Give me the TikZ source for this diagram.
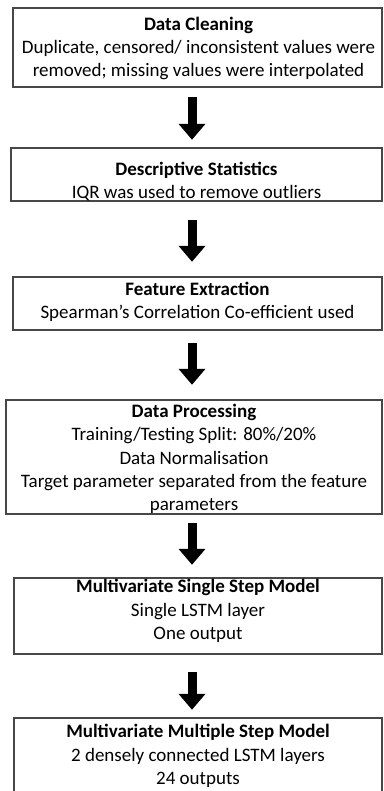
\documentclass[tikz,border=0pt]{standalone}
\usepackage{fontspec}
\setmainfont{Carlito}
\usetikzlibrary{arrows.meta,calc}
\begin{document}
\begin{tikzpicture}[x=1pt,y=-1pt,
  frame/.style={draw=black!72, line width=1.1pt},
  stagebox/.style={minimum width=#1, inner sep=0pt},
  stagetext/.style={align=center, font=\fontsize{19}{23.2}\selectfont, inner sep=0pt},
  bigarrow/.style={line width=9pt, -{Triangle[width=26pt,length=16pt]}}]
\useasboundingbox (0,0) rectangle (383,791);
\clip (0,0) rectangle (383,791);
% stage boxes (corner coordinates in px)
\draw[frame] (13,8) rectangle (382,87);
\node (b1) at (197.5,47.5) [stagebox=369pt, minimum height=79pt] {};
\draw[frame] (11,148) rectangle (382,201);
\node (b2) at (196.5,174.5) [stagebox=371pt, minimum height=53pt] {};
\draw[frame] (13,277) rectangle (382,330);
\node (b3) at (197.5,303.5) [stagebox=369pt, minimum height=53pt] {};
\draw[frame] (6,400) rectangle (382,514);
\node (b4) at (194,457) [stagebox=376pt, minimum height=114pt] {};
\draw[frame] (14,578) rectangle (382,654);
\node (b5) at (198,616) [stagebox=368pt, minimum height=76pt] {};
\draw[frame] (14,718) rectangle (382,820);
\node (b6) at (198,769) [stagebox=368pt, minimum height=102pt] {};
% texts
\node[stagetext] (t1) at (198.5,48.5) {\textbf{Data Cleaning}\\Duplicate, censored/ inconsistent values were\\removed; missing values were interpolated};
\node[stagetext] (t2) at (196.5,181.5) {\textbf{Descriptive Statistics}\\IQR was used to remove outliers};
\node[stagetext] (t3) at (197.5,302) {\textbf{Feature Extraction}\\Spearman’s Correlation Co-efficient used};
\node[stagetext] (t4) at (194,459) {\textbf{Data Processing}\\Training/Testing Split: 80\%/20\%\\Data Normalisation\\Target parameter separated from the feature\\parameters};
\node[stagetext] (t5) at (198,611) {\textbf{Multivariate Single Step Model}\\Single LSTM layer\\One output};
\node[stagetext] (t6) at (198,756) {\textbf{Multivariate Multiple Step Model}\\2 densely connected LSTM layers\\24 outputs};
% block arrows between stages
\coordinate (ax) at (192,0);
\draw[bigarrow, shorten <=10pt, shorten >=8pt] (b1.south -| ax) -- (b2.north -| ax);
\draw[bigarrow, shorten <=19pt, shorten >=15pt] (b2.south -| ax) -- (b3.north -| ax);
\draw[bigarrow, shorten <=13pt, shorten >=15pt] (b3.south -| ax) -- (b4.north -| ax);
\draw[bigarrow, shorten <=9pt, shorten >=13pt] (b4.south -| ax) -- (b5.north -| ax);
\draw[bigarrow, shorten <=18pt, shorten >=8pt] (b5.south -| ax) -- (b6.north -| ax);
\end{tikzpicture}
\end{document}
